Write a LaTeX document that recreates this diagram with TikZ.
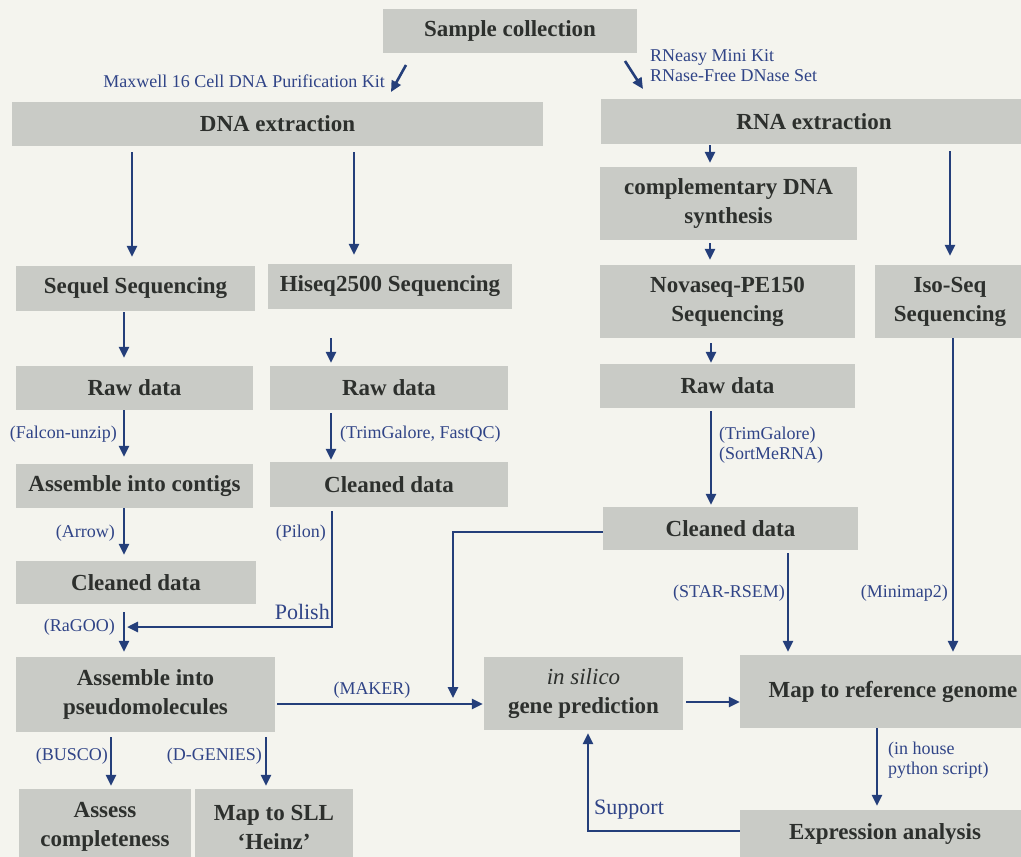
\documentclass[tikz,border=0pt]{standalone}
\usepackage{fontspec}
\setmainfont{Liberation Serif}
\usetikzlibrary{arrows.meta}
\definecolor{bgc}{RGB}{244,244,238}
\definecolor{boxc}{RGB}{201,203,198}
\definecolor{txtc}{RGB}{45,48,45}
\definecolor{arrc}{RGB}{36,62,122}
\definecolor{labc}{RGB}{48,68,135}
\begin{document}
\begin{tikzpicture}[x=1pt,y=-1pt,
 box/.style={fill=boxc, text=txtc, font=\fontsize{23}{29}\selectfont\bfseries, align=center, inner sep=0pt},
 arr/.style={draw=arrc, line width=2.6pt, -{Triangle[length=11pt,width=10pt]}},
 lab/.style={text=labc, font=\fontsize{18}{20}\selectfont, inner sep=0pt, align=left},
 big/.style={text=labc, font=\fontsize{22}{24}\selectfont, inner sep=0pt}]
\useasboundingbox (0,0) rectangle (1021,857);
\clip (0,0) rectangle (1021,857);
\fill[bgc] (0,0) rectangle (1021,857);

% boxes
\node[box, minimum width=254pt, minimum height=44pt] (sample) at (510,31) {Sample collection};
\node[box, minimum width=531pt, minimum height=44pt] (dna) at (277.5,124) {DNA extraction};
\node[box, minimum width=426pt, minimum height=45pt] (rna) at (814,121.5) {RNA extraction};
\node[box, minimum width=257pt, minimum height=73pt] (cdna) at (728.5,203.5) {complementary DNA\\synthesis};
\node[box, minimum width=239pt, minimum height=45pt] (sequel) at (135.5,288.5) {Sequel Sequencing};
\node[box, minimum width=244pt, minimum height=45pt] (hiseq) at (390,286.5) {Hiseq2500 Sequencing};
\node[box, minimum width=255pt, minimum height=73pt] (nova) at (727.5,301.5) {Novaseq-PE150\\Sequencing};
\node[box, minimum width=150pt, minimum height=73pt] (iso) at (950,301.5) {Iso-Seq\\Sequencing};
\node[box, minimum width=237pt, minimum height=44pt] (raw1) at (134.5,388) {Raw data};
\node[box, minimum width=238pt, minimum height=44pt] (raw2) at (389,388) {Raw data};
\node[box, minimum width=255pt, minimum height=44pt] (raw3) at (727.5,386) {Raw data};
\node[box, minimum width=237pt, minimum height=44pt] (contigs) at (134.5,486) {Assemble into contigs};
\node[box, minimum width=238pt, minimum height=45pt] (clean2) at (389,484.5) {Cleaned data};
\node[box, minimum width=255pt, minimum height=43pt] (clean3) at (730.5,528.5) {Cleaned data};
\node[box, minimum width=240pt, minimum height=43pt] (clean1) at (136,582.5) {Cleaned data};
\node[box, minimum width=259pt, minimum height=75pt] (pseudo) at (145.5,694.5) {Assemble into\\pseudomolecules};
\node[box, minimum width=199pt, minimum height=73pt] (insilico) at (583.5,693.5) {{\mdseries\itshape in silico}\\gene prediction};
\node[box, minimum width=306pt, minimum height=73pt] (mapref) at (893,691.5) {Map to reference genome};
\node[box, minimum width=290pt, minimum height=48pt] (expr) at (885,834) {Expression analysis};
\node[box, minimum width=172pt, minimum height=76pt] (assess) at (105,827) {Assess\\completeness};
\node[box, minimum width=158pt, minimum height=76pt] (sll) at (274,827) {Map to SLL\\‘Heinz’};

% labels
\node[lab, anchor=east] (lmax) at (385,81) {Maxwell 16 Cell DNA Purification Kit};
\node[lab, anchor=north west] (lrneasy) at (650,49) {RNeasy Mini Kit\\RNase-Free DNase Set};
\node[lab, anchor=east] (lfalcon) at (117,434) {(Falcon-unzip)};
\node[lab, anchor=west] (ltrim) at (340,434) {(TrimGalore, FastQC)};
\node[lab, anchor=east] (larrow) at (115,533) {(Arrow)};
\node[lab, anchor=east] (lpilon) at (326,533) {(Pilon)};
\node[big, anchor=east] (lpolish) at (330,612) {Polish};
\node[lab, anchor=east] (lragoo) at (115,627) {(RaGOO)};
\node[lab, anchor=north west] (ltrim2) at (719,427) {(TrimGalore)\\(SortMeRNA)};
\node[lab, anchor=east] (lstar) at (785,593) {(STAR-RSEM)};
\node[lab, anchor=east] (lmini) at (948,593) {(Minimap2)};
\node[lab] (lmaker) at (372,690) {(MAKER)};
\node[lab, anchor=north west] (lhouse) at (888,742) {(in house\\python script)};
\node[big, anchor=west] (lsupport) at (594,810) {Support};
\node[lab, anchor=east] (lbusco) at (108,756) {(BUSCO)};
\node[lab, anchor=east] (ldgen) at (262,756) {(D-GENIES)};

% free ends
\coordinate (m1) at (406,65);
\coordinate (m2) at (391,92);
\coordinate (r1) at (625,61);
\coordinate (r2) at (643,89);
\coordinate (polishend) at (127,627);
\coordinate (makerend) at (453,698);

% connectors
\draw[arr] (m1) -- (m2);
\draw[arr] (r1) -- (r2);
\draw[arr, shorten <=6pt, shorten >=9pt] (dna.south -| 132,0) -- (sequel.north -| 132,0);
\draw[arr, shorten <=6pt, shorten >=9pt] (dna.south -| 354,0) -- (hiseq.north -| 354,0);
\draw[arr, shorten <=1pt, shorten >=8pt] (sequel.south -| 124,0) -- (raw1.north -| 124,0);
\draw[arr, shorten <=29pt, shorten >=3pt] (hiseq.south -| 331,0) -- (raw2.north -| 331,0);
\draw[arr, shorten >=7pt] (raw1.south -| 124,0) -- (contigs.north -| 124,0);
\draw[arr, shorten <=3pt, shorten >=2pt] (raw2.south -| 331,0) -- (clean2.north -| 331,0);
\draw[arr, shorten >=6pt] (contigs.south -| 124,0) -- (clean1.north -| 124,0);
\draw[arr, shorten <=8pt, shorten >=5pt] (clean1.south -| 124,0) -- (pseudo.north -| 124,0);
\draw[arr, shorten <=4pt] (clean2.south -| 332,0) |- (polishend);
\draw[arr, shorten <=2pt, shorten >=1pt] (pseudo.east |- 0,704) -- (insilico.west |- 0,704);
\draw[arr] (clean3.west |- 0,532) -| (makerend);
\draw[arr, shorten <=3pt] (insilico.east |- 0,702) -- (mapref.west |- 0,702);
\draw[arr, shorten <=3pt, shorten >=3pt] (clean3.south -| 788,0) -- (mapref.north -| 788,0);
\draw[arr, shorten >=3pt] (iso.south -| 953,0) -- (mapref.north -| 953,0);
\draw[arr, shorten >=4pt] (mapref.south -| 877,0) -- (expr.north -| 877,0);
\draw[arr, shorten >=3pt] (expr.west |- 0,831) -| (insilico.south -| 588,0);
\draw[arr, shorten <=5pt, shorten >=3pt] (pseudo.south -| 111,0) -- (assess.north -| 111,0);
\draw[arr, shorten <=5pt, shorten >=3pt] (pseudo.south -| 266,0) -- (sll.north -| 266,0);
\draw[arr, shorten <=5pt, shorten >=1pt] (nova.south -| 711,0) -- (raw3.north -| 711,0);
\draw[arr, shorten <=1pt, shorten >=4pt] (rna.south -| 710,0) -- (cdna.north -| 710,0);
\draw[arr, shorten <=3pt, shorten >=5pt] (cdna.south -| 710,0) -- (nova.north -| 710,0);
\draw[arr, shorten <=3pt, shorten >=2pt] (raw3.south -| 711,0) -- (clean3.north -| 711,0);
\draw[arr, shorten <=7pt, shorten >=9pt] (rna.south -| 950,0) -- (iso.north -| 950,0);
\end{tikzpicture}
\end{document}
